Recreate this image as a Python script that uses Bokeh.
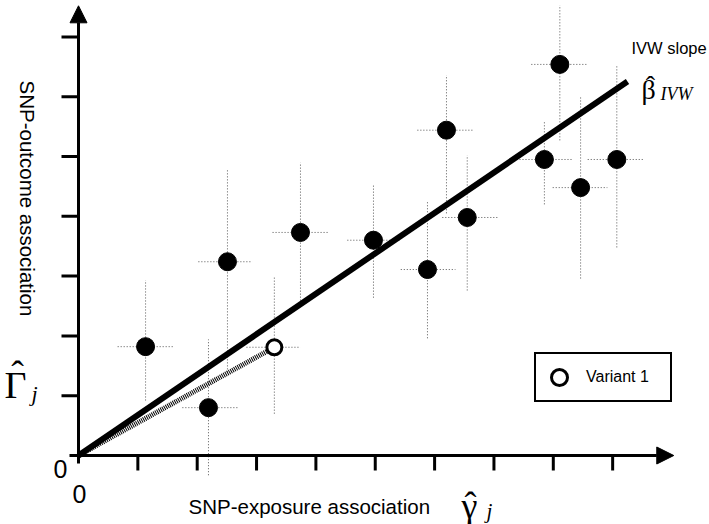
import math
from bokeh.plotting import figure
from bokeh.models import (Label, Arrow, NormalHead, Legend, LegendItem, Range1d)
from bokeh.embed import file_html
from bokeh.resources import INLINE

# ---------------- data ----------------
snp_x    = [1.13, 2.19, 2.51, 3.74, 4.97, 5.88, 6.20, 6.55, 7.85, 8.11, 8.46, 9.07]
snp_y    = [1.82, 0.80, 3.24, 3.73, 3.60, 3.11, 5.44, 3.98, 4.95, 6.54, 4.48, 4.95]
snp_x_lo = [0.66, 1.75, 2.02, 3.27, 4.53, 5.43, 5.71, 6.13, 7.38, 7.63, 7.99, 8.58]
snp_x_hi = [1.60, 2.70, 2.93, 4.20, 5.43, 6.35, 6.66, 7.06, 8.32, 8.56, 8.91, 9.52]
snp_y_lo = [0.92, -0.33, 1.39, 2.59, 2.64, 1.96, 4.05, 2.76, 4.20, 5.27, 2.96, 3.48]
snp_y_hi = [2.93, 1.94, 4.77, 4.90, 4.52, 4.26, 6.36, 5.02, 5.60, 7.53, 5.99, 6.51]

variant1_x = [3.30]
variant1_y = [1.81]
variant1_x_lo = [2.83]
variant1_x_hi = [3.74]
variant1_y_lo = [0.70]
variant1_y_hi = [2.98]

ivw_slope = 0.676
ivw_x_end = 9.25

x_ticks = [1, 2, 3, 4, 5, 6, 7, 8, 9]
y_ticks = [1, 2, 3, 4, 5, 6, 7]
x_axis_end = 10.03
y_axis_end = 7.52

# ---------------- layout constants ----------------
OFF = 0            # page margin (template has none)
W, H = 709, 524    # figure size
OX, OY = 78, 455   # origin in page pixels
UX, UY = 59.35, 59.8  # pixels per data unit


def sx(px):
    return px - OFF


def sy(py):
    return OFF + H - py


p = figure(width=W, height=H, output_backend="svg", toolbar_location=None,
           x_axis_type=None, y_axis_type=None, min_border=0,
           x_range=Range1d((OFF - OX) / UX, (OFF + W - OX) / UX),
           y_range=Range1d((OY - (OFF + H)) / UY, (OY - OFF) / UY))
p.outline_line_color = None
p.grid.visible = False
p.background_fill_color = "white"
p.border_fill_color = "white"

# ---------------- axes with arrows ----------------
p.add_layout(Arrow(end=NormalHead(size=17, fill_color="black", line_color="black", line_width=1),
                   x_start=0, y_start=0, x_end=x_axis_end, y_end=0,
                   line_width=3, line_color="black"))
p.add_layout(Arrow(end=NormalHead(size=17, fill_color="black", line_color="black", line_width=1),
                   x_start=0, y_start=0, x_end=0, y_end=y_axis_end,
                   line_width=3, line_color="black"))

xt_len = 15 / UY
yt_len = 17 / UX
p.segment(x0=x_ticks, y0=[0] * len(x_ticks), x1=x_ticks, y1=[-xt_len] * len(x_ticks),
          line_width=3, line_color="black")
p.segment(x0=[0] * len(y_ticks), y0=y_ticks, x1=[-yt_len] * len(y_ticks), y1=y_ticks,
          line_width=3, line_color="black")
# small cross at origin
p.segment(x0=[0, 0], y0=[0, 0], x1=[0, -9 / UX], y1=[-8 / UY, 0],
          line_width=3, line_color="black")

# ---------------- error bars ----------------
eb_col = "#555555"
p.segment(x0=snp_x_lo, y0=snp_y, x1=snp_x_hi, y1=snp_y,
          line_color=eb_col, line_width=1, line_dash="1 2")
p.segment(x0=snp_x, y0=snp_y_lo, x1=snp_x, y1=snp_y_hi,
          line_color=eb_col, line_width=1, line_dash="1 2")
p.segment(x0=variant1_x_lo, y0=variant1_y, x1=variant1_x_hi, y1=variant1_y,
          line_color=eb_col, line_width=1, line_dash="1 2")
p.segment(x0=variant1_x, y0=variant1_y_lo, x1=variant1_x, y1=variant1_y_hi,
          line_color=eb_col, line_width=1, line_dash="1 2")

# ---------------- lines ----------------
p.line(x=[0, ivw_x_end], y=[0, ivw_slope * ivw_x_end], line_width=6, line_color="black")
p.line(x=[0, variant1_x[0]], y=[0, variant1_y[0]], line_width=5,
       line_color="black", line_dash="1 1")

# ---------------- points ----------------
p.scatter(x=snp_x, y=snp_y, size=18, marker="circle",
          fill_color="black", line_color="black")
r_open = p.scatter(x=variant1_x, y=variant1_y, size=15, marker="circle",
                   fill_color="white", line_color="black", line_width=3)

legend = Legend(items=[LegendItem(label="Variant 1", renderers=[r_open])],
                location=(sx(534), sy(402)), margin=0, padding=3,
                glyph_width=40, glyph_height=40, label_standoff=7,
                label_width=81, label_height=20,
                label_text_font="Liberation Sans", label_text_font_size="16px",
                label_text_color="black",
                border_line_color="black", border_line_width=2.5,
                border_line_alpha=1.0,
                background_fill_color="white", background_fill_alpha=1)
p.add_layout(legend)

# ---------------- texts ----------------
SANS = "Liberation Sans"
SERIF = "Liberation Serif"
HAT = "\u02c6"


def lab(text, px, py, size, font=SANS, style="normal", align="left",
        baseline="alphabetic", angle=0.0):
    p.add_layout(Label(x=sx(px), y=sy(py), x_units="screen", y_units="screen",
                       text=text, text_font=font, text_font_size=size,
                       text_font_style=style, text_align=align,
                       text_baseline=baseline, angle=angle, text_color="black"))


lab("IVW slope", 631, 47, "16.5px")
lab("\u03b2", 641, 89, "28px", font=SERIF)
lab(HAT, 650, 85, "28px", font=SERIF, align="center")
lab("IVW", 660, 93, "18px", font=SERIF, style="italic")

lab("\u0393", 4, 384, "38px", font=SERIF)
lab(HAT, 17, 373, "38px", font=SERIF, align="center")
lab("j", 31, 393, "22px", font=SERIF, style="italic")

lab("\u03b3", 461, 505, "36px", font=SERIF)
lab(HAT, 470, 504, "36px", font=SERIF, align="center")
lab("j", 486, 510, "21px", font=SERIF, style="italic")

lab("SNP-exposure association", 188, 506, "20.5px")
lab("SNP-outcome association", 27, 80, "20.5px", baseline="middle", angle=-math.pi / 2)

lab("0", 60, 468, "25px", align="center")
lab("0", 79, 493, "25px", align="center")

open("out.html", "w").write(file_html(p, INLINE))
